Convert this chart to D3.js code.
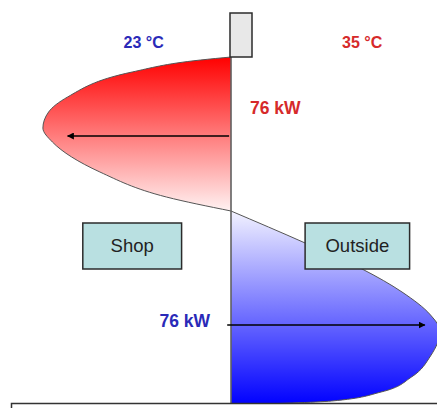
<!DOCTYPE html>
<html>
<head>
<meta charset="utf-8">
<script src="https://cdn.jsdelivr.net/npm/d3@7"></script>
<style>
  body { margin: 0; background: #fff; }
  text { font-family: "Liberation Sans", Arial, sans-serif; }
</style>
</head>
<body>
<div id="chart"></div>
<script>
// Heat flow profile through the wall (offset from wall, depth)
// red = heat coming from the shop side, blue = heat going outside
const redDepth = [57, 60, 72, 97, 112, 128, 142, 172, 197, 211];
const redFlow  = [0, -0.16, -0.52, -0.86, -0.96, -0.99, -0.94, -0.69, -0.34, 0];

const blueDepth = [211, 243, 269, 292, 315, 331, 356, 377, 392, 401, 405];
const blueFlow  = [0, 0.39, 0.69, 0.9, 1.05, 1.1, 1.05, 0.95, 0.79, 0.53, 0];

// labels
const tempLabels = [
    {text: "23 °C", side: -0.46, y: 48, color: "#2a2ab8"},
    {text: "35 °C", side: 0.69, y: 48, color: "#d62a2a"}
];
const powerLabels = [
    {text: "76 kW", flow: 0.1, y: 114, color: "#d62a2a", anchor: "start"},
    {text: "76 kW", flow: -0.11, y: 327, color: "#2a2ab8", anchor: "end"}
];
const roomBoxes = [
    {name: "Shop", x0: -0.78, x1: -0.26},
    {name: "Outside", x0: 0.39, x1: 0.94}
];
const arrows = [
    {from: -0.01, to: -0.86, y: 136},
    {from: -0.02, to: 1.02, y: 325}
];

let width = 437, height = 408;

let svg = d3.select("#chart")
    .append("svg")
    .attr("width", width)
    .attr("height", height);

let xScale = d3.scaleLinear().domain([-1, 1]).range([231 - 190, 231 + 190]);
let yScale = d3.scaleLinear().domain([0, height]).range([0, height]);

const wallX = xScale(0);

// gradients
const defs = svg.append("defs");
const redGrad = defs.append("linearGradient")
    .attr("id", "redGrad")
    .attr("gradientUnits", "userSpaceOnUse")
    .attr("x1", 0).attr("x2", 0)
    .attr("y1", yScale(d3.min(redDepth))).attr("y2", yScale(d3.max(redDepth)));
redGrad.append("stop").attr("offset", 0).attr("stop-color", "#ff0000");
redGrad.append("stop").attr("offset", 1).attr("stop-color", "#fff2f2");

const blueGrad = defs.append("linearGradient")
    .attr("id", "blueGrad")
    .attr("gradientUnits", "userSpaceOnUse")
    .attr("x1", 0).attr("x2", 0)
    .attr("y1", yScale(d3.min(blueDepth))).attr("y2", yScale(d3.max(blueDepth)));
blueGrad.append("stop").attr("offset", 0).attr("stop-color", "#f2f2ff");
blueGrad.append("stop").attr("offset", 1).attr("stop-color", "#0000ff");

defs.append("marker")
    .attr("id", "head")
    .attr("viewBox", "0 0 10 10")
    .attr("refX", 9).attr("refY", 5)
    .attr("markerWidth", 7).attr("markerHeight", 7)
    .attr("markerUnits", "userSpaceOnUse")
    .attr("orient", "auto")
    .append("path")
    .attr("d", "M0,0 L10,5 L0,10 z")
    .attr("fill", "#000");

// depth always grows along a lobe, so monotoneY keeps the outline smooth
const line = d3.line()
    .x(d => xScale(d[0]))
    .y(d => yScale(d[1]))
    .curve(d3.curveMonotoneY);

// lobes (closed along the wall)
function lobe(flow, depth, fill) {
    const pts = flow.map((f, i) => [f, depth[i]]);
    svg.append("path")
        .attr("d", line(pts) + "Z")
        .attr("fill", fill)
        .attr("stroke", "#555")
        .attr("stroke-width", 1);
}
lobe(redFlow, redDepth, "url(#redGrad)");
lobe(blueFlow, blueDepth, "url(#blueGrad)");

// wall
svg.append("line")
    .attr("x1", wallX).attr("x2", wallX)
    .attr("y1", yScale(d3.min(redDepth))).attr("y2", yScale(d3.max(blueDepth)))
    .attr("stroke", "#666")
    .attr("stroke-width", 1.2);

svg.append("rect")
    .attr("x", wallX - 1).attr("y", 13)
    .attr("width", 22).attr("height", yScale(d3.min(redDepth)) - 13)
    .attr("fill", "#e8e8e8")
    .attr("stroke", "#2b2b2b")
    .attr("stroke-width", 1.5);

// floor
svg.append("rect")
    .attr("x", 11.5).attr("y", 403.5)
    .attr("width", 440).attr("height", 12)
    .attr("fill", "#fff")
    .attr("stroke", "#333")
    .attr("stroke-width", 1.5);

// arrows
svg.selectAll(".arrow")
    .data(arrows)
    .join("line")
    .attr("class", "arrow")
    .attr("x1", d => xScale(d.from)).attr("x2", d => xScale(d.to))
    .attr("y1", d => d.y).attr("y2", d => d.y)
    .attr("stroke", "#000")
    .attr("stroke-width", 1.5)
    .attr("marker-end", "url(#head)");

// room boxes
const boxes = svg.selectAll(".room")
    .data(roomBoxes)
    .join("g")
    .attr("class", "room");
boxes.append("rect")
    .attr("x", d => xScale(d.x0)).attr("y", 223)
    .attr("width", d => xScale(d.x1) - xScale(d.x0)).attr("height", 46)
    .attr("fill", "#b9e0e1")
    .attr("stroke", "#2b2b2b")
    .attr("stroke-width", 1.5);
boxes.append("text")
    .attr("x", d => (xScale(d.x0) + xScale(d.x1)) / 2)
    .attr("y", 252)
    .attr("text-anchor", "middle")
    .attr("font-size", 18.5)
    .attr("fill", "#222")
    .text(d => d.name);

// labels
svg.selectAll(".temp")
    .data(tempLabels)
    .join("text")
    .attr("class", "temp")
    .attr("x", d => xScale(d.side))
    .attr("y", d => d.y)
    .attr("text-anchor", "middle")
    .attr("font-size", 16)
    .attr("font-weight", "bold")
    .attr("fill", d => d.color)
    .text(d => d.text);

svg.selectAll(".power")
    .data(powerLabels)
    .join("text")
    .attr("class", "power")
    .attr("x", d => xScale(d.flow))
    .attr("y", d => d.y)
    .attr("text-anchor", d => d.anchor)
    .attr("font-size", 17.5)
    .attr("font-weight", "bold")
    .attr("fill", d => d.color)
    .text(d => d.text);
</script>
</body>
</html>
